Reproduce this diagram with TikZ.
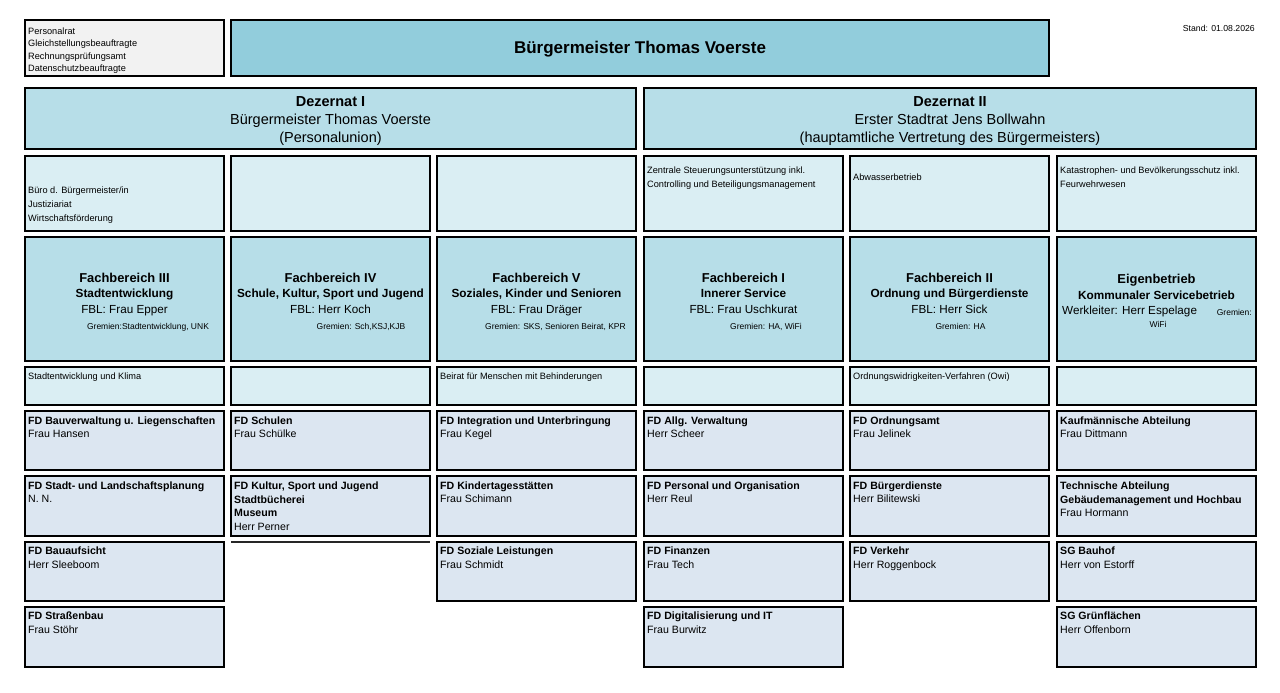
\documentclass[tikz,border=0pt]{standalone}
\usepackage{fontspec}
\setmainfont{Liberation Sans}
\definecolor{bmblue}{HTML}{92CDDC}
\definecolor{dzblue}{HTML}{B7DEE8}
\definecolor{ltblue}{HTML}{DAEEF3}
\definecolor{fdblue}{HTML}{DCE6F1}
\definecolor{grayf}{HTML}{F2F2F2}
\newcommand\fsmall{\fontsize{9.2}{11}\selectfont}
\newcommand\fgrem{\fontsize{8.5}{10}\selectfont}
\newcommand\ffd{\fontsize{10.6}{13}\selectfont}
\newcommand\ffbt{\fontsize{12.9}{15}\selectfont\bfseries}
\newcommand\ffbs{\fontsize{11.8}{14}\selectfont\bfseries}
\newcommand\ffbl{\fontsize{11.7}{14}\selectfont}
\newcommand\fdz{\fontsize{14.5}{17}\selectfont}
\newcommand\fbm{\fontsize{17}{20}\selectfont\bfseries}
\newcommand\fstand{\fontsize{8.7}{10}\selectfont}
\tikzset{
  box/.style={draw=black, line width=1.2pt, inner sep=0pt, outer sep=0pt},
  gbox/.style={box, fill=grayf},
  bmbox/.style={box, fill=bmblue},
  dzbox/.style={box, fill=dzblue},
  ltbox/.style={box, fill=ltblue},
  fdbox/.style={box, fill=fdblue},
  lt/.style={inner sep=0pt, anchor=mid west, yshift=-2.5pt},
  ct/.style={inner sep=0pt, anchor=mid, yshift=-2.5pt},
  rt/.style={inner sep=0pt, anchor=mid east, yshift=-2.5pt},
}
% box: name, x1, y1, x2, y2, style
\newcommand\bx[6]{\node[#6, minimum width={#4-#2}, minimum height={#5-#3}] (#1) at ({(#2+#4)/2},{(#3+#5)/2}) {};}
% text line: name, x, y, style, text
\newcommand\tline[5]{\node[#4] (#1) at (#2,#3) {#5};}
\begin{document}
\begin{tikzpicture}[x=1pt,y=-1pt]
\useasboundingbox (0,0) rectangle (1280,693);
% ---------- top row
\bx{adv}{25}{20}{224}{76}{gbox}
\tline{adv1}{28}{29}{lt,font=\fsmall}{Personalrat}
\tline{adv2}{28}{41.5}{lt,font=\fsmall}{Gleichstellungsbeauftragte}
\tline{adv3}{28}{54}{lt,font=\fsmall}{Rechnungsprüfungsamt}
\tline{adv4}{28}{66.5}{lt,font=\fsmall}{Datenschutzbeauftragte}
\bx{bm}{231}{20}{1049}{76}{bmbox}
\tline{bmt}{640}{48}{ct,font=\fbm}{Bürgermeister Thomas Voerste}
\tline{stand}{1255}{26}{rt,font=\fstand}{Stand: 01.08.2026}
% ---------- Dezernate
\bx{dz1}{25}{88}{636}{149}{dzbox}
\tline{dz1a}{330.5}{101}{ct,font=\fdz\bfseries}{Dezernat I}
\tline{dz1b}{330.5}{119}{ct,font=\fdz}{Bürgermeister Thomas Voerste}
\tline{dz1c}{330.5}{137}{ct,font=\fdz}{(Personalunion)}
\bx{dz2}{644}{88}{1256}{149}{dzbox}
\tline{dz2a}{950}{101}{ct,font=\fdz\bfseries}{Dezernat II}
\tline{dz2b}{950}{119}{ct,font=\fdz}{Erster Stadtrat Jens Bollwahn}
\tline{dz2c}{950}{137}{ct,font=\fdz}{(hauptamtliche Vertretung des Bürgermeisters)}
% ---------- staff row
\bx{s1}{25}{156}{224}{231}{ltbox}
\bx{s2}{231}{156}{430}{231}{ltbox}
\bx{s3}{437}{156}{636}{231}{ltbox}
\bx{s4}{644}{156}{843}{231}{ltbox}
\bx{s5}{850}{156}{1049}{231}{ltbox}
\bx{s6}{1057}{156}{1256}{231}{ltbox}
\tline{s1a}{28}{188}{lt,font=\fsmall}{Büro d. Bürgermeister/in}
\tline{s1b}{28}{202}{lt,font=\fsmall}{Justiziariat}
\tline{s1c}{28}{216.5}{lt,font=\fsmall}{Wirtschaftsförderung}
\tline{s4a}{647}{168.5}{lt,font=\fsmall}{Zentrale Steuerungsunterstützung inkl.}
\tline{s4b}{647}{182}{lt,font=\fsmall}{Controlling und Beteiligungsmanagement}
\tline{s5a}{853}{175}{lt,font=\fsmall}{Abwasserbetrieb}
\tline{s6a}{1060}{168.5}{lt,font=\fsmall}{Katastrophen- und Bevölkerungsschutz inkl.}
\tline{s6b}{1060}{182}{lt,font=\fsmall}{Feurwehrwesen}
% ---------- Fachbereiche
\bx{fb3}{25}{237}{224}{361}{dzbox}
\tline{fb3a}{124.5}{277}{ct,font=\ffbt}{Fachbereich III}
\tline{fb3b}{124.5}{292}{ct,font=\ffbs}{Stadtentwicklung}
\tline{fb3c}{124.5}{308}{ct,font=\ffbl}{FBL: Frau Epper}
\tline{fb3d}{148}{324}{ct,font=\fgrem}{Gremien:Stadtentwicklung, UNK}
\bx{fb4}{231}{237}{430}{361}{dzbox}
\tline{fb4a}{330.5}{277}{ct,font=\ffbt}{Fachbereich IV}
\tline{fb4b}{330.5}{292}{ct,font=\ffbs}{Schule, Kultur, Sport und Jugend}
\tline{fb4c}{330.5}{308}{ct,font=\ffbl}{FBL: Herr Koch}
\tline{fb4d}{361}{324}{ct,font=\fgrem}{Gremien: Sch,KSJ,KJB}
\bx{fb5}{437}{237}{636}{361}{dzbox}
\tline{fb5a}{536.5}{277}{ct,font=\ffbt}{Fachbereich V}
\tline{fb5b}{536.5}{292}{ct,font=\ffbs}{Soziales, Kinder und Senioren}
\tline{fb5c}{536.5}{308}{ct,font=\ffbl}{FBL: Frau Dräger}
\tline{fb5d}{555.5}{324}{ct,font=\fgrem}{Gremien: SKS, Senioren Beirat, KPR}
\bx{fb1}{644}{237}{843}{361}{dzbox}
\tline{fb1a}{743.5}{277}{ct,font=\ffbt}{Fachbereich I}
\tline{fb1b}{743.5}{292}{ct,font=\ffbs}{Innerer Service}
\tline{fb1c}{743.5}{308}{ct,font=\ffbl}{FBL: Frau Uschkurat}
\tline{fb1d}{766}{324}{ct,font=\fgrem}{Gremien: HA, WiFi}
\bx{fb2}{850}{237}{1049}{361}{dzbox}
\tline{fb2a}{949.5}{277}{ct,font=\ffbt}{Fachbereich II}
\tline{fb2b}{949.5}{292}{ct,font=\ffbs}{Ordnung und Bürgerdienste}
\tline{fb2c}{949.5}{308}{ct,font=\ffbl}{FBL: Herr Sick}
\tline{fb2d}{960.5}{324}{ct,font=\fgrem}{Gremien: HA}
\bx{eb}{1057}{237}{1256}{361}{dzbox}
\tline{eba}{1156.5}{278}{ct,font=\ffbt}{Eigenbetrieb}
\tline{ebb}{1156.5}{294}{ct,font=\ffbs}{Kommunaler Servicebetrieb}
\tline{ebc}{1062}{309.5}{lt,font=\ffbl}{Werkleiter: Herr Espelage}
\tline{ebd}{1252}{310}{rt,font=\fgrem}{Gremien:}
\tline{ebe}{1158}{322}{ct,font=\fgrem}{WiFi}
% ---------- thin row
\bx{t1}{25}{367}{224}{405}{ltbox}
\bx{t2}{231}{367}{430}{405}{ltbox}
\bx{t3}{437}{367}{636}{405}{ltbox}
\bx{t4}{644}{367}{843}{405}{ltbox}
\bx{t5}{850}{367}{1049}{405}{ltbox}
\bx{t6}{1057}{367}{1256}{405}{ltbox}
\tline{t1a}{28}{374.5}{lt,font=\fsmall}{Stadtentwicklung und Klima}
\tline{t3a}{440}{374.5}{lt,font=\fsmall}{Beirat für Menschen mit Behinderungen}
\tline{t5a}{853}{374.5}{lt,font=\fsmall}{Ordnungswidrigkeiten-Verfahren (Owi)}
% ---------- FD row 1
\bx{d11}{25}{411}{224}{470}{fdbox}
\bx{d21}{231}{411}{430}{470}{fdbox}
\bx{d31}{437}{411}{636}{470}{fdbox}
\bx{d41}{644}{411}{843}{470}{fdbox}
\bx{d51}{850}{411}{1049}{470}{fdbox}
\bx{d61}{1057}{411}{1256}{470}{fdbox}
\tline{d11a}{28}{419}{lt,font=\ffd\bfseries}{FD Bauverwaltung u. Liegenschaften}
\tline{d11b}{28}{432.5}{lt,font=\ffd}{Frau Hansen}
\tline{d21a}{234}{419}{lt,font=\ffd\bfseries}{FD Schulen}
\tline{d21b}{234}{432.5}{lt,font=\ffd}{Frau Schülke}
\tline{d31a}{440}{419}{lt,font=\ffd\bfseries}{FD Integration und Unterbringung}
\tline{d31b}{440}{432.5}{lt,font=\ffd}{Frau Kegel}
\tline{d41a}{647}{419}{lt,font=\ffd\bfseries}{FD Allg. Verwaltung}
\tline{d41b}{647}{432.5}{lt,font=\ffd}{Herr Scheer}
\tline{d51a}{853}{419}{lt,font=\ffd\bfseries}{FD Ordnungsamt}
\tline{d51b}{853}{432.5}{lt,font=\ffd}{Frau Jelinek}
\tline{d61a}{1060}{419}{lt,font=\ffd\bfseries}{Kaufmännische Abteilung}
\tline{d61b}{1060}{432.5}{lt,font=\ffd}{Frau Dittmann}
% ---------- FD row 2
\bx{d12}{25}{476}{224}{536}{fdbox}
\bx{d22}{231}{476}{430}{536}{fdbox}
\bx{d32}{437}{476}{636}{536}{fdbox}
\bx{d42}{644}{476}{843}{536}{fdbox}
\bx{d52}{850}{476}{1049}{536}{fdbox}
\bx{d62}{1057}{476}{1256}{536}{fdbox}
\tline{d12a}{28}{484}{lt,font=\ffd\bfseries}{FD Stadt- und Landschaftsplanung}
\tline{d12b}{28}{497.5}{lt,font=\ffd}{N. N.}
\tline{d22a}{234}{484}{lt,font=\ffd\bfseries}{FD Kultur, Sport und Jugend}
\tline{d22b}{234}{498}{lt,font=\ffd\bfseries}{Stadtbücherei}
\tline{d22c}{234}{511.5}{lt,font=\ffd\bfseries}{Museum}
\tline{d22d}{234}{525}{lt,font=\ffd}{Herr Perner}
\tline{d32a}{440}{484}{lt,font=\ffd\bfseries}{FD Kindertagesstätten}
\tline{d32b}{440}{497.5}{lt,font=\ffd}{Frau Schimann}
\tline{d42a}{647}{484}{lt,font=\ffd\bfseries}{FD Personal und Organisation}
\tline{d42b}{647}{497.5}{lt,font=\ffd}{Herr Reul}
\tline{d52a}{853}{484}{lt,font=\ffd\bfseries}{FD Bürgerdienste}
\tline{d52b}{853}{497.5}{lt,font=\ffd}{Herr Bilitewski}
\tline{d62a}{1060}{484}{lt,font=\ffd\bfseries}{Technische Abteilung}
\tline{d62b}{1060}{498}{lt,font=\ffd\bfseries}{Gebäudemanagement und Hochbau}
\tline{d62c}{1060}{511.5}{lt,font=\ffd}{Frau Hormann}
% ---------- FD row 3
\draw[line width=1.2pt, black!85] (231,542) -- (430,542);
\bx{d13}{25}{542}{224}{601}{fdbox}
\bx{d33}{437}{542}{636}{601}{fdbox}
\bx{d43}{644}{542}{843}{601}{fdbox}
\bx{d53}{850}{542}{1049}{601}{fdbox}
\bx{d63}{1057}{542}{1256}{601}{fdbox}
\tline{d13a}{28}{549.5}{lt,font=\ffd\bfseries}{FD Bauaufsicht}
\tline{d13b}{28}{563}{lt,font=\ffd}{Herr Sleeboom}
\tline{d33a}{440}{549.5}{lt,font=\ffd\bfseries}{FD Soziale Leistungen}
\tline{d33b}{440}{563}{lt,font=\ffd}{Frau Schmidt}
\tline{d43a}{647}{549.5}{lt,font=\ffd\bfseries}{FD Finanzen}
\tline{d43b}{647}{563}{lt,font=\ffd}{Frau Tech}
\tline{d53a}{853}{549.5}{lt,font=\ffd\bfseries}{FD Verkehr}
\tline{d53b}{853}{563}{lt,font=\ffd}{Herr Roggenbock}
\tline{d63a}{1060}{549.5}{lt,font=\ffd\bfseries}{SG Bauhof}
\tline{d63b}{1060}{563}{lt,font=\ffd}{Herr von Estorff}
% ---------- FD row 4
\bx{d14}{25}{607}{224}{667}{fdbox}
\bx{d44}{644}{607}{843}{667}{fdbox}
\bx{d64}{1057}{607}{1256}{667}{fdbox}
\tline{d14a}{28}{614.5}{lt,font=\ffd\bfseries}{FD Straßenbau}
\tline{d14b}{28}{628}{lt,font=\ffd}{Frau Stöhr}
\tline{d44a}{647}{614.5}{lt,font=\ffd\bfseries}{FD Digitalisierung und IT}
\tline{d44b}{647}{628}{lt,font=\ffd}{Frau Burwitz}
\tline{d64a}{1060}{614.5}{lt,font=\ffd\bfseries}{SG Grünflächen}
\tline{d64b}{1060}{628}{lt,font=\ffd}{Herr Offenborn}
\end{tikzpicture}
\end{document}
